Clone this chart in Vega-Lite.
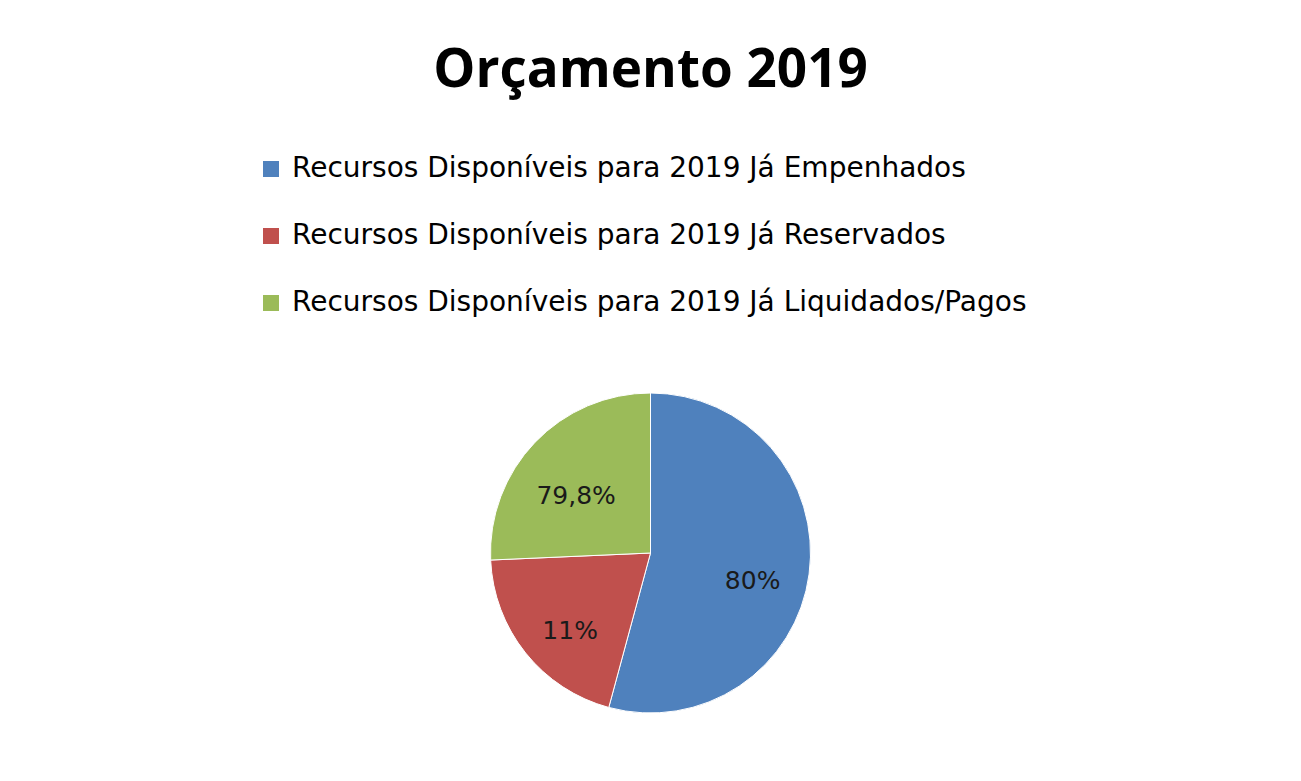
{
  "$schema": "https://vega.github.io/schema/vega-lite/v6.json",
  "width": 1301,
  "height": 456,
  "autosize": {"type": "none"},
  "padding": {"top": 325, "left": 0, "right": 0, "bottom": 0},
  "background": "white",
  "title": {
    "text": "Orçamento 2019",
    "font": "Open Sans",
    "fontSize": 53,
    "fontWeight": "bold",
    "color": "#000000",
    "anchor": "middle",
    "offset": 57
  },
  "data": {
    "values": [
      {"categoria": "Recursos Disponíveis para 2019 Já Empenhados", "valor": 54.2, "rotulo": "80%", "ordem": 1},
      {"categoria": "Recursos Disponíveis para 2019 Já Reservados", "valor": 20.1, "rotulo": "11%", "ordem": 2},
      {"categoria": "Recursos Disponíveis para 2019 Já Liquidados/Pagos", "valor": 25.7, "rotulo": "79,8%", "ordem": 3}
    ]
  },
  "encoding": {
    "theta": {"field": "valor", "type": "quantitative", "stack": true},
    "order": {"field": "ordem", "type": "quantitative"}
  },
  "layer": [
    {
      "mark": {"type": "arc", "outerRadius": 160, "stroke": "white", "strokeWidth": 1},
      "encoding": {
        "color": {
          "field": "categoria",
          "type": "nominal",
          "scale": {
            "domain": [
              "Recursos Disponíveis para 2019 Já Empenhados",
              "Recursos Disponíveis para 2019 Já Reservados",
              "Recursos Disponíveis para 2019 Já Liquidados/Pagos"
            ],
            "range": ["#4F81BD", "#C0504D", "#9BBB59"]
          },
          "legend": {
            "title": null,
            "orient": "none",
            "legendX": 257,
            "legendY": -170,
            "symbolType": "square",
            "symbolSize": 256,
            "symbolStrokeWidth": 0,
            "labelFont": "DejaVu Sans",
            "labelFontSize": 28,
            "labelColor": "#000000",
            "labelLimit": 1000,
            "rowPadding": 39,
            "labelOffset": 7
          }
        }
      }
    },
    {
      "mark": {"type": "text", "radius": 103, "dy": 14, "font": "DejaVu Sans", "fontSize": 25, "color": "#1a1a1a"},
      "encoding": {
        "text": {"field": "rotulo", "type": "nominal"}
      }
    }
  ]
}
